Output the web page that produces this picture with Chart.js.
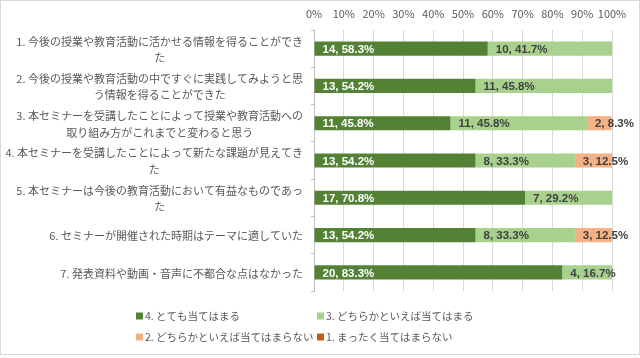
<!DOCTYPE html>
<html lang="ja">
<head>
<meta charset="utf-8">
<script src="https://cdn.jsdelivr.net/npm/chart.js@4.4.1/dist/chart.umd.min.js"></script>
<style>
  html, body { margin: 0; padding: 0; background: #fff; }
  #wrap { width: 640px; height: 358px; }
</style>
</head>
<body>
<div id="wrap"><canvas id="myChart" width="640" height="358"></canvas></div>
<script>
// 設問ラベル（参照画像の折り返し位置そのまま）
const preguntas = [
    ['1. 今後の授業や教育活動に活かせる情報を得ることができ', 'た'],
    ['2. 今後の授業や教育活動の中ですぐに実践してみようと思', 'う情報を得ることができた'],
    ['3. 本セミナーを受講したことによって授業や教育活動への', '取り組み方がこれまでと変わると思う'],
    ['4. 本セミナーを受講したことによって新たな課題が見えてき', 'た'],
    ['5. 本セミナーは今後の教育活動において有益なものであっ', 'た'],
    ['6. セミナーが開催された時期はテーマに適していた'],
    ['7. 発表資料や動画・音声に不都合な点はなかった']
];

const nombresSeries = [
    '4. とても当てはまる',
    '3. どちらかといえば当てはまる',
    '2. どちらかといえば当てはまらない',
    '1. まったく当てはまらない'
];

// 人数
const cuenta4 = [14, 13, 11, 13, 17, 13, 20];
const cuenta3 = [10, 11, 11, 8, 7, 8, 4];
const cuenta2 = [0, 0, 2, 3, 0, 3, 0];
const cuenta1 = [0, 0, 0, 0, 0, 0, 0];

// 割合 (%)
const pct4 = [58.3, 54.2, 45.8, 54.2, 70.8, 54.2, 83.3];
const pct3 = [41.7, 45.8, 45.8, 33.3, 29.2, 33.3, 16.7];
const pct2 = [0, 0, 8.3, 12.5, 0, 12.5, 0];
const pct1 = [0, 0, 0, 0, 0, 0, 0];

const ticksX = [0, 10, 20, 30, 40, 50, 60, 70, 80, 90, 100];

const colores = ['#548235', '#a9d18e', '#f4b183', '#c55a11'];
const cuentas = [cuenta4, cuenta3, cuenta2, cuenta1];
const pcts = [pct4, pct3, pct2, pct1];

const fuenteJP = '"Noto Sans CJK JP", "Noto Sans", sans-serif';
const grisTexto = '#595959';

// 枠線と背景
const fondoPlugin = {
    id: 'fondo',
    beforeDraw(chart) {
        const ctx = chart.ctx;
        ctx.save();
        ctx.fillStyle = '#fff';
        ctx.fillRect(0, 0, chart.width, chart.height);
        ctx.strokeStyle = '#d9d9d9';
        ctx.lineWidth = 1;
        ctx.strokeRect(0.5, 0.5, 639, 354);
        ctx.restore();
    }
};

// 設問ラベル：右寄せのブロック内で各行を中央揃え（Excel風）
const etiquetasPlugin = {
    id: 'etiquetas',
    afterDraw(chart) {
        const ctx = chart.ctx;
        const yScale = chart.scales.y;
        const derecha = chart.chartArea.left - 11;
        const alto = 16.5;
        ctx.save();
        ctx.font = '11px ' + fuenteJP;
        ctx.fillStyle = grisTexto;
        ctx.textAlign = 'center';
        ctx.textBaseline = 'middle';
        preguntas.forEach((lineas, i) => {
            const yc = yScale.getPixelForValue(i);
            const anchoMax = Math.max(...lineas.map(l => ctx.measureText(l).width));
            const xc = derecha - anchoMax / 2;
            const y0 = yc - (lineas.length - 1) * alto / 2 + 1;
            lineas.forEach((l, k) => ctx.fillText(l, xc, y0 + k * alto));
        });
        ctx.restore();
    }
};

// データラベル「人数, 割合%」
const valoresPlugin = {
    id: 'valores',
    afterDatasetsDraw(chart) {
        const ctx = chart.ctx;
        ctx.save();
        ctx.font = 'bold 11.5px "Liberation Sans", Arial, sans-serif';
        ctx.textAlign = 'left';
        ctx.textBaseline = 'middle';
        chart.data.datasets.forEach((ds, i) => {
            const meta = chart.getDatasetMeta(i);
            meta.data.forEach((bar, j) => {
                if (!cuentas[i][j]) return;
                const x = Math.min(bar.base, bar.x) + 8;
                ctx.fillStyle = i === 0 ? '#ffffff' : '#404040';
                ctx.fillText(`${cuentas[i][j]}, ${pcts[i][j].toFixed(1)}%`, x, bar.y + 1);
            });
        });
        ctx.restore();
    }
};

// 凡例（2列×2行）
const leyendaPlugin = {
    id: 'leyenda',
    afterDraw(chart) {
        const ctx = chart.ctx;
        const cols = [136, 317];
        const filas = [316, 337];
        ctx.save();
        ctx.font = '10.5px ' + fuenteJP;
        ctx.textAlign = 'left';
        ctx.textBaseline = 'middle';
        nombresSeries.forEach((nombre, i) => {
            const x = cols[i % 2];
            const y = filas[Math.floor(i / 2)];
            ctx.fillStyle = colores[i];
            ctx.fillRect(x, y - 3.5, 7, 7);
            ctx.fillStyle = grisTexto;
            ctx.fillText(nombre, x + 9, y);
        });
        ctx.restore();
    }
};

const ctx = document.getElementById('myChart').getContext('2d');
new Chart(ctx, {
    type: 'bar',
    data: {
        labels: preguntas.map(p => p.join('')),
        datasets: nombresSeries.map((nombre, i) => ({
            label: nombre,
            data: pcts[i],
            backgroundColor: colores[i],
            borderWidth: 0,
            categoryPercentage: 1,
            barPercentage: 0.38
        }))
    },
    options: {
        indexAxis: 'y',
        responsive: false,
        animation: false,
        devicePixelRatio: 1,
        layout: { padding: { left: 0, right: 28, top: 0, bottom: 67 } },
        plugins: {
            legend: { display: false },
            tooltip: { enabled: false }
        },
        scales: {
            x: {
                position: 'top',
                stacked: true,
                min: 0,
                max: 100,
                afterBuildTicks: s => { s.ticks = ticksX.map(v => ({ value: v })); },
                afterFit: s => { s.height = 30; },
                ticks: {
                    color: grisTexto,
                    font: { family: fuenteJP, size: 11 },
                    padding: 10,
                    autoSkip: false,
                    maxRotation: 0,
                    minRotation: 0,
                    callback: v => v + '%'
                },
                grid: { color: '#d9d9d9', drawTicks: false },
                border: { display: false }
            },
            y: {
                stacked: true,
                afterFit: s => { s.width = 314; },
                ticks: { display: false },
                grid: {
                    drawOnChartArea: false,
                    drawTicks: true,
                    tickLength: 3,
                    color: '#bfbfbf'
                },
                border: { display: true, color: '#bfbfbf' }
            }
        }
    },
    plugins: [fondoPlugin, etiquetasPlugin, valoresPlugin, leyendaPlugin]
});
</script>
</body>
</html>
